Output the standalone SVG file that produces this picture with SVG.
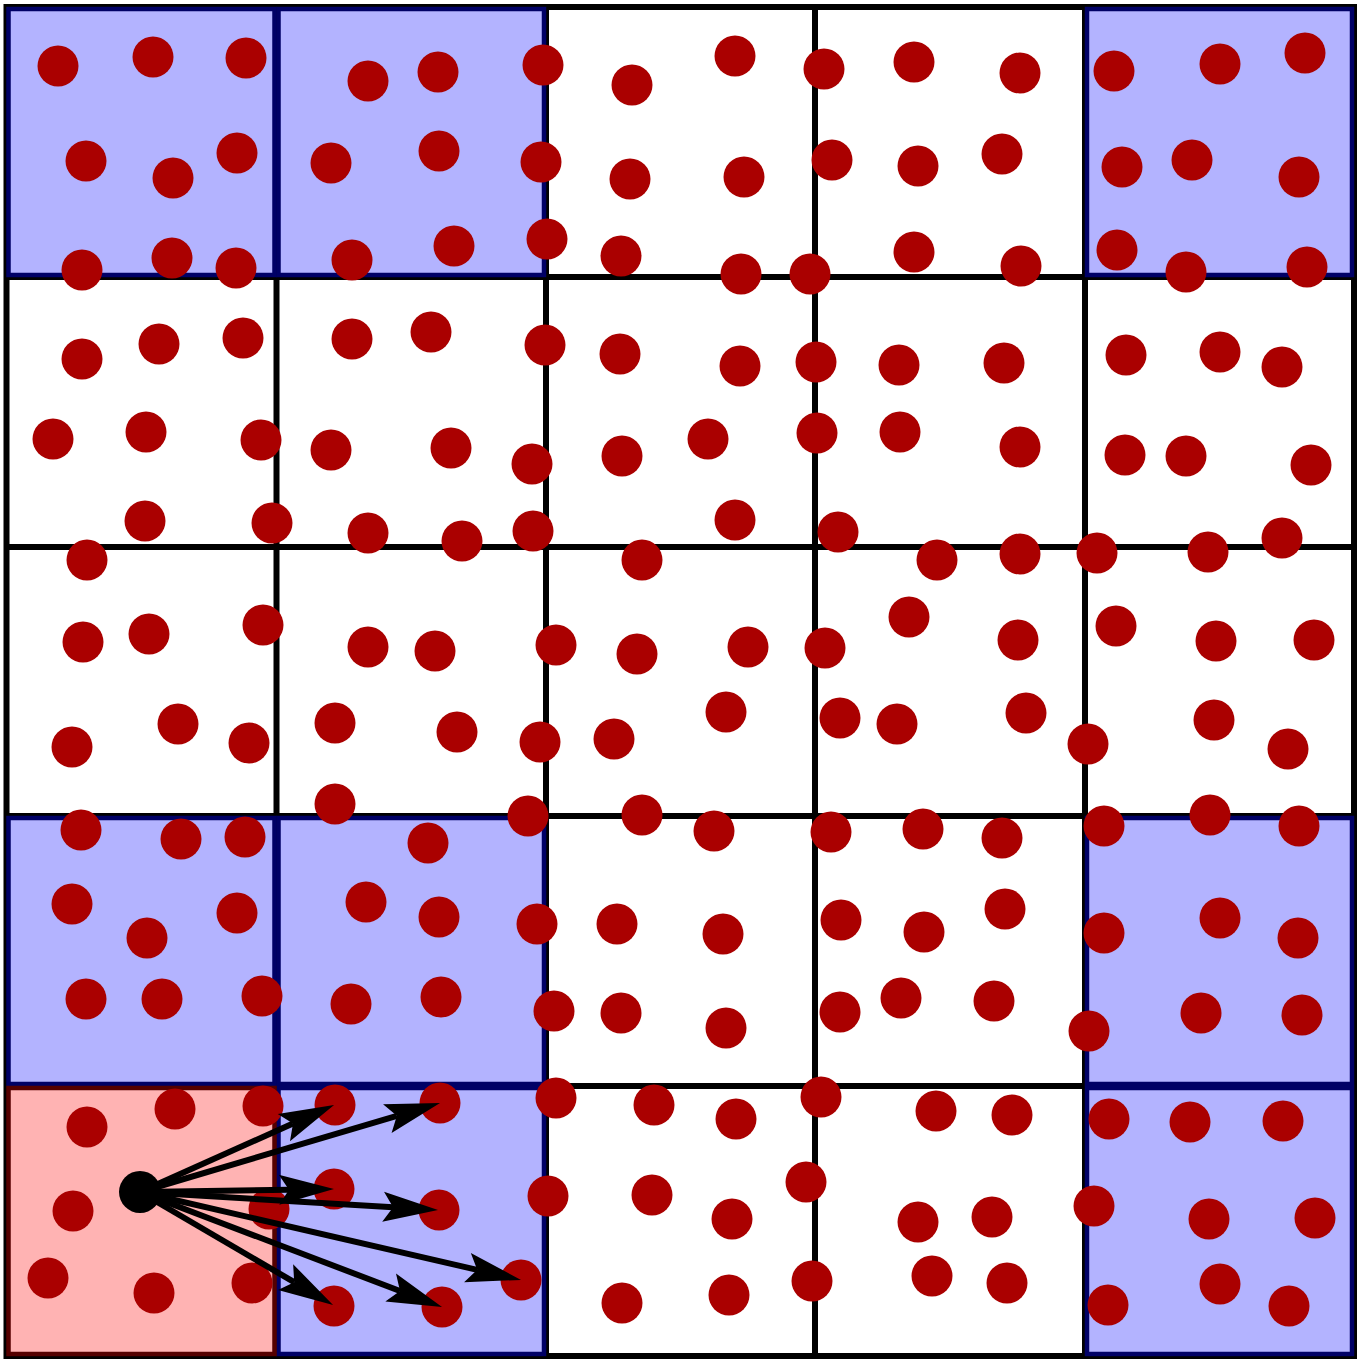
<svg xmlns="http://www.w3.org/2000/svg" width="1357" height="1359" viewBox="0 0 1357 1359">
<style>
.grid{stroke:#000;stroke-width:6;fill:none}
.blue{fill:#b3b3ff;stroke:#000066;stroke-width:4.5}
.pink{fill:#ffb3b3;stroke:#550000;stroke-width:4.5}
.pt{fill:#aa0000}
.src{fill:#000}
.arr{stroke:#000;stroke-width:6;fill:none;marker-end:url(#head)}
</style>
<defs>
<marker id="head" markerUnits="userSpaceOnUse" orient="auto" refX="0" refY="0" markerWidth="80" markerHeight="40" overflow="visible">
<path d="M-10,-15 L45,0 L-10,15 L0,0 Z" fill="#000"/>
</marker>
</defs>
<rect x="0" y="0" width="1357" height="1359" fill="#fff"/>
<g id="grid">
<path class="grid" d="M6.5,4V1359M276.5,4V1359M546,4V1359M815,4V1359M1085,4V1359M1354,4V1359M3.5,7H1357M3.5,277H1357M3.5,547H1357M3.5,816H1357M3.5,1086H1357M3.5,1356H1357"/>
</g>
<g id="cells">
<rect id="c00" class="blue" x="8.5" y="9" width="266" height="266"/>
<rect id="c01" class="blue" x="278.5" y="9" width="265.5" height="266"/>
<rect id="c04" class="blue" x="1087" y="9" width="265" height="266"/>
<rect id="c30" class="blue" x="8.5" y="818" width="266" height="266"/>
<rect id="c31" class="blue" x="278.5" y="818" width="265.5" height="266"/>
<rect id="c34" class="blue" x="1087" y="818" width="265" height="266"/>
<rect id="c41" class="blue" x="278.5" y="1088" width="265.5" height="266"/>
<rect id="c44" class="blue" x="1087" y="1088" width="265" height="266"/>
<rect id="c40" class="pink" x="8.5" y="1088" width="266" height="266"/>
</g>
<g id="points">
<circle class="pt" cx="58" cy="66" r="20.5"/><circle class="pt" cx="153" cy="57" r="20.5"/><circle class="pt" cx="246" cy="58" r="20.5"/><circle class="pt" cx="368" cy="81" r="20.5"/><circle class="pt" cx="438" cy="72" r="20.5"/><circle class="pt" cx="543" cy="65" r="20.5"/><circle class="pt" cx="632" cy="85" r="20.5"/><circle class="pt" cx="735" cy="56" r="20.5"/><circle class="pt" cx="824" cy="69" r="20.5"/><circle class="pt" cx="914" cy="62" r="20.5"/><circle class="pt" cx="1020" cy="73" r="20.5"/><circle class="pt" cx="1114" cy="71" r="20.5"/><circle class="pt" cx="1220" cy="64" r="20.5"/><circle class="pt" cx="1305" cy="53" r="20.5"/>
<circle class="pt" cx="86" cy="161" r="20.5"/><circle class="pt" cx="173" cy="178" r="20.5"/><circle class="pt" cx="237" cy="153" r="20.5"/><circle class="pt" cx="331" cy="163" r="20.5"/><circle class="pt" cx="439" cy="151" r="20.5"/><circle class="pt" cx="541" cy="162" r="20.5"/><circle class="pt" cx="630" cy="179" r="20.5"/><circle class="pt" cx="744" cy="177" r="20.5"/><circle class="pt" cx="832" cy="160" r="20.5"/><circle class="pt" cx="918" cy="166" r="20.5"/><circle class="pt" cx="1002" cy="154" r="20.5"/><circle class="pt" cx="1122" cy="167" r="20.5"/><circle class="pt" cx="1192" cy="160" r="20.5"/><circle class="pt" cx="1299" cy="177" r="20.5"/>
<circle class="pt" cx="82" cy="270" r="20.5"/><circle class="pt" cx="172" cy="258" r="20.5"/><circle class="pt" cx="236" cy="268" r="20.5"/><circle class="pt" cx="352" cy="260" r="20.5"/><circle class="pt" cx="454" cy="246" r="20.5"/><circle class="pt" cx="547" cy="239" r="20.5"/><circle class="pt" cx="621" cy="256" r="20.5"/><circle class="pt" cx="741" cy="274" r="20.5"/><circle class="pt" cx="810" cy="274" r="20.5"/><circle class="pt" cx="914" cy="252" r="20.5"/><circle class="pt" cx="1021" cy="266" r="20.5"/><circle class="pt" cx="1117" cy="250" r="20.5"/><circle class="pt" cx="1186" cy="272" r="20.5"/><circle class="pt" cx="1307" cy="267" r="20.5"/>
<circle class="pt" cx="82" cy="359" r="20.5"/><circle class="pt" cx="159" cy="344" r="20.5"/><circle class="pt" cx="243" cy="338" r="20.5"/><circle class="pt" cx="352" cy="339" r="20.5"/><circle class="pt" cx="431" cy="332" r="20.5"/><circle class="pt" cx="545" cy="345" r="20.5"/><circle class="pt" cx="620" cy="354" r="20.5"/><circle class="pt" cx="740" cy="366" r="20.5"/><circle class="pt" cx="816" cy="362" r="20.5"/><circle class="pt" cx="899" cy="365" r="20.5"/><circle class="pt" cx="1004" cy="363" r="20.5"/><circle class="pt" cx="1126" cy="355" r="20.5"/><circle class="pt" cx="1220" cy="352" r="20.5"/><circle class="pt" cx="1282" cy="367" r="20.5"/>
<circle class="pt" cx="53" cy="439" r="20.5"/><circle class="pt" cx="146" cy="432" r="20.5"/><circle class="pt" cx="261" cy="440" r="20.5"/><circle class="pt" cx="331" cy="450" r="20.5"/><circle class="pt" cx="451" cy="448" r="20.5"/><circle class="pt" cx="532" cy="464" r="20.5"/><circle class="pt" cx="622" cy="456" r="20.5"/><circle class="pt" cx="708" cy="439" r="20.5"/><circle class="pt" cx="817" cy="433" r="20.5"/><circle class="pt" cx="900" cy="432" r="20.5"/><circle class="pt" cx="1020" cy="447" r="20.5"/><circle class="pt" cx="1125" cy="455" r="20.5"/><circle class="pt" cx="1186" cy="456" r="20.5"/><circle class="pt" cx="1311" cy="465" r="20.5"/>
<circle class="pt" cx="145" cy="521" r="20.5"/><circle class="pt" cx="272" cy="523" r="20.5"/><circle class="pt" cx="368" cy="533" r="20.5"/><circle class="pt" cx="462" cy="541" r="20.5"/><circle class="pt" cx="533" cy="531" r="20.5"/><circle class="pt" cx="735" cy="520" r="20.5"/><circle class="pt" cx="838" cy="532" r="20.5"/>
<circle class="pt" cx="87" cy="560" r="20.5"/><circle class="pt" cx="642" cy="560" r="20.5"/><circle class="pt" cx="937" cy="560" r="20.5"/><circle class="pt" cx="1020" cy="554" r="20.5"/><circle class="pt" cx="1097" cy="553" r="20.5"/><circle class="pt" cx="1208" cy="552" r="20.5"/><circle class="pt" cx="1282" cy="538" r="20.5"/>
<circle class="pt" cx="83" cy="642" r="20.5"/><circle class="pt" cx="149" cy="634" r="20.5"/><circle class="pt" cx="263" cy="625" r="20.5"/><circle class="pt" cx="368" cy="647" r="20.5"/><circle class="pt" cx="435" cy="651" r="20.5"/><circle class="pt" cx="556" cy="645" r="20.5"/><circle class="pt" cx="637" cy="654" r="20.5"/><circle class="pt" cx="748" cy="647" r="20.5"/><circle class="pt" cx="825" cy="648" r="20.5"/><circle class="pt" cx="909" cy="617" r="20.5"/><circle class="pt" cx="1018" cy="640" r="20.5"/><circle class="pt" cx="1116" cy="626" r="20.5"/><circle class="pt" cx="1216" cy="641" r="20.5"/><circle class="pt" cx="1314" cy="640" r="20.5"/>
<circle class="pt" cx="72" cy="747" r="20.5"/><circle class="pt" cx="178" cy="724" r="20.5"/><circle class="pt" cx="249" cy="743" r="20.5"/><circle class="pt" cx="335" cy="723" r="20.5"/><circle class="pt" cx="457" cy="732" r="20.5"/><circle class="pt" cx="540" cy="742" r="20.5"/><circle class="pt" cx="614" cy="739" r="20.5"/><circle class="pt" cx="726" cy="712" r="20.5"/><circle class="pt" cx="840" cy="718" r="20.5"/><circle class="pt" cx="897" cy="724" r="20.5"/><circle class="pt" cx="1026" cy="713" r="20.5"/><circle class="pt" cx="1088" cy="744" r="20.5"/><circle class="pt" cx="1214" cy="720" r="20.5"/><circle class="pt" cx="1288" cy="749" r="20.5"/>
<circle class="pt" cx="335" cy="804" r="20.5"/><circle class="pt" cx="528" cy="816" r="20.5"/><circle class="pt" cx="642" cy="815" r="20.5"/><circle class="pt" cx="714" cy="831" r="20.5"/><circle class="pt" cx="831" cy="832" r="20.5"/><circle class="pt" cx="923" cy="829" r="20.5"/><circle class="pt" cx="1002" cy="838" r="20.5"/><circle class="pt" cx="1104" cy="826" r="20.5"/><circle class="pt" cx="1210" cy="815" r="20.5"/><circle class="pt" cx="1299" cy="826" r="20.5"/><circle class="pt" cx="81" cy="830" r="20.5"/><circle class="pt" cx="181" cy="839" r="20.5"/><circle class="pt" cx="245" cy="837" r="20.5"/><circle class="pt" cx="428" cy="843" r="20.5"/>
<circle class="pt" cx="72" cy="904" r="20.5"/><circle class="pt" cx="147" cy="938" r="20.5"/><circle class="pt" cx="237" cy="913" r="20.5"/><circle class="pt" cx="366" cy="902" r="20.5"/><circle class="pt" cx="439" cy="917" r="20.5"/><circle class="pt" cx="537" cy="924" r="20.5"/><circle class="pt" cx="617" cy="924" r="20.5"/><circle class="pt" cx="723" cy="934" r="20.5"/><circle class="pt" cx="841" cy="920" r="20.5"/><circle class="pt" cx="924" cy="932" r="20.5"/><circle class="pt" cx="1005" cy="909" r="20.5"/><circle class="pt" cx="1104" cy="933" r="20.5"/><circle class="pt" cx="1220" cy="918" r="20.5"/><circle class="pt" cx="1298" cy="938" r="20.5"/>
<circle class="pt" cx="86" cy="999" r="20.5"/><circle class="pt" cx="162" cy="999" r="20.5"/><circle class="pt" cx="262" cy="996" r="20.5"/><circle class="pt" cx="351" cy="1004" r="20.5"/><circle class="pt" cx="441" cy="997" r="20.5"/><circle class="pt" cx="554" cy="1011" r="20.5"/><circle class="pt" cx="621" cy="1013" r="20.5"/><circle class="pt" cx="726" cy="1028" r="20.5"/><circle class="pt" cx="840" cy="1012" r="20.5"/><circle class="pt" cx="901" cy="998" r="20.5"/><circle class="pt" cx="994" cy="1001" r="20.5"/><circle class="pt" cx="1089" cy="1031" r="20.5"/><circle class="pt" cx="1201" cy="1013" r="20.5"/><circle class="pt" cx="1302" cy="1015" r="20.5"/>
<circle class="pt" cx="87" cy="1127" r="20.5"/><circle class="pt" cx="175" cy="1109" r="20.5"/><circle class="pt" cx="263" cy="1106" r="20.5"/><circle class="pt" cx="335" cy="1105" r="20.5"/><circle class="pt" cx="440" cy="1103" r="20.5"/><circle class="pt" cx="556" cy="1098" r="20.5"/><circle class="pt" cx="654" cy="1105" r="20.5"/><circle class="pt" cx="736" cy="1119" r="20.5"/><circle class="pt" cx="821" cy="1097" r="20.5"/><circle class="pt" cx="936" cy="1111" r="20.5"/><circle class="pt" cx="1012" cy="1115" r="20.5"/><circle class="pt" cx="1109" cy="1119" r="20.5"/><circle class="pt" cx="1190" cy="1122" r="20.5"/><circle class="pt" cx="1283" cy="1121" r="20.5"/>
<circle class="pt" cx="73" cy="1211" r="20.5"/><circle class="pt" cx="269" cy="1209" r="20.5"/><circle class="pt" cx="334" cy="1189" r="20.5"/><circle class="pt" cx="439" cy="1210" r="20.5"/><circle class="pt" cx="548" cy="1196" r="20.5"/><circle class="pt" cx="652" cy="1195" r="20.5"/><circle class="pt" cx="732" cy="1219" r="20.5"/><circle class="pt" cx="806" cy="1182" r="20.5"/><circle class="pt" cx="918" cy="1222" r="20.5"/><circle class="pt" cx="992" cy="1217" r="20.5"/><circle class="pt" cx="1094" cy="1206" r="20.5"/><circle class="pt" cx="1209" cy="1219" r="20.5"/><circle class="pt" cx="1315" cy="1218" r="20.5"/>
<circle class="pt" cx="48" cy="1278" r="20.5"/><circle class="pt" cx="154" cy="1293" r="20.5"/><circle class="pt" cx="252" cy="1283" r="20.5"/><circle class="pt" cx="334" cy="1306" r="20.5"/><circle class="pt" cx="442" cy="1307" r="20.5"/><circle class="pt" cx="521" cy="1280" r="20.5"/><circle class="pt" cx="622" cy="1303" r="20.5"/><circle class="pt" cx="729" cy="1295" r="20.5"/><circle class="pt" cx="812" cy="1281" r="20.5"/><circle class="pt" cx="932" cy="1276" r="20.5"/><circle class="pt" cx="1007" cy="1283" r="20.5"/><circle class="pt" cx="1108" cy="1305" r="20.5"/><circle class="pt" cx="1220" cy="1284" r="20.5"/><circle class="pt" cx="1289" cy="1306" r="20.5"/>
</g>
<g id="connectors">
<line class="arr" x1="140" y1="1192" x2="293" y2="1123.5"/>
<line class="arr" x1="140" y1="1192" x2="396.9" y2="1115.8"/>
<line class="arr" x1="140" y1="1192" x2="289" y2="1189.7"/>
<line class="arr" x1="140" y1="1192" x2="393.1" y2="1207.3"/>
<line class="arr" x1="140" y1="1192" x2="477.2" y2="1269.8"/>
<line class="arr" x1="140" y1="1192" x2="400" y2="1291"/>
<line class="arr" x1="140" y1="1192" x2="294.2" y2="1282.2"/>
</g>
<g id="source">
<circle class="src" cx="140" cy="1192" r="21"/>
</g>
</svg>
